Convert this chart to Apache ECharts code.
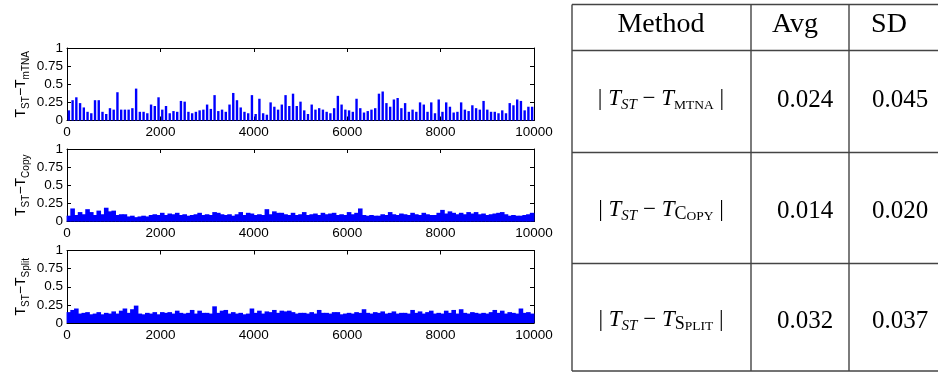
<!DOCTYPE html>
<html><head><meta charset="utf-8">
<script src="https://cdn.jsdelivr.net/npm/echarts@6/dist/echarts.min.js"></script>
<style>html,body{margin:0;padding:0;background:#fff}#c{width:938px;height:373px}</style>
</head><body><div id="c"></div>
<script>
// ---- data (each value = peak within a bin of 80 samples) ----
const BIN = 80;
const xTickLabels = ['0','2000','4000','6000','8000','10000'];
const yTickLabels = ['0','0.25','0.5','0.75','1'];

const mtnaDiff = [0.14,0.28,0.32,0.24,0.18,0.12,0.10,0.28,0.28,0.12,0.09,0.17,0.15,0.39,0.15,0.15,0.15,0.17,0.44,0.12,
0.12,0.10,0.22,0.20,0.32,0.15,0.20,0.10,0.13,0.12,0.27,0.26,0.12,0.10,0.12,0.14,0.15,0.22,0.16,0.35,
0.13,0.15,0.12,0.22,0.38,0.28,0.18,0.12,0.10,0.35,0.09,0.30,0.10,0.08,0.25,0.19,0.15,0.22,0.35,0.20,
0.37,0.20,0.26,0.14,0.09,0.22,0.15,0.17,0.15,0.12,0.10,0.17,0.34,0.22,0.15,0.14,0.12,0.30,0.17,0.11,
0.13,0.15,0.17,0.37,0.40,0.24,0.19,0.29,0.31,0.17,0.24,0.12,0.15,0.12,0.25,0.22,0.12,0.25,0.10,0.29,
0.12,0.25,0.19,0.11,0.12,0.25,0.15,0.13,0.21,0.17,0.15,0.27,0.15,0.12,0.12,0.10,0.14,0.10,0.24,0.21,
0.29,0.27,0.14,0.19,0.19];

const copyDiff = [0.08,0.18,0.09,0.13,0.10,0.17,0.13,0.09,0.15,0.10,0.19,0.14,0.15,0.09,0.10,0.10,0.07,0.08,0.06,0.07,
0.08,0.07,0.09,0.10,0.09,0.12,0.09,0.11,0.10,0.12,0.09,0.10,0.08,0.09,0.10,0.12,0.09,0.10,0.09,0.13,
0.12,0.10,0.09,0.10,0.08,0.10,0.13,0.09,0.12,0.11,0.09,0.10,0.09,0.17,0.10,0.14,0.12,0.12,0.10,0.09,
0.12,0.09,0.10,0.13,0.09,0.10,0.11,0.09,0.12,0.10,0.11,0.12,0.09,0.10,0.09,0.13,0.10,0.12,0.18,0.09,
0.08,0.09,0.08,0.08,0.10,0.09,0.13,0.10,0.09,0.11,0.10,0.09,0.12,0.10,0.09,0.12,0.10,0.09,0.09,0.12,
0.16,0.11,0.14,0.12,0.10,0.12,0.10,0.13,0.11,0.13,0.10,0.11,0.09,0.10,0.11,0.12,0.13,0.10,0.08,0.09,
0.08,0.08,0.09,0.10,0.12];

const splitDiff = [0.15,0.18,0.20,0.13,0.14,0.15,0.12,0.13,0.15,0.12,0.14,0.13,0.16,0.13,0.17,0.20,0.14,0.19,0.24,0.13,
0.12,0.14,0.13,0.15,0.12,0.15,0.14,0.15,0.13,0.17,0.14,0.13,0.14,0.18,0.13,0.17,0.14,0.14,0.13,0.23,
0.14,0.17,0.18,0.13,0.15,0.13,0.14,0.12,0.13,0.20,0.14,0.17,0.13,0.16,0.15,0.18,0.14,0.17,0.16,0.17,
0.15,0.13,0.14,0.14,0.13,0.15,0.13,0.18,0.14,0.14,0.13,0.15,0.15,0.12,0.13,0.14,0.13,0.15,0.14,0.19,
0.14,0.13,0.15,0.14,0.16,0.13,0.14,0.16,0.13,0.14,0.14,0.13,0.18,0.14,0.16,0.13,0.15,0.17,0.13,0.14,
0.13,0.17,0.14,0.18,0.13,0.19,0.14,0.13,0.15,0.14,0.13,0.14,0.13,0.15,0.18,0.14,0.17,0.13,0.15,0.14,
0.13,0.20,0.14,0.15,0.13];

const ySubs = [['ST','mTNA'],['ST','Copy'],['ST','Split']];

const tableHeader = ['Method','Avg','SD'];
const tableMethodCaps = [['','MTNA'],['C','OPY'],['S','PLIT']];
const tableAvg = ['0.024','0.014','0.032'];
const tableSD = ['0.045','0.020','0.037'];

// ---- layout ----
const gridTops = [48, 149, 250.5];
const GRID_LEFT = 67, GRID_W = 467, GRID_H = 72.5;
const seriesList = [mtnaDiff, copyDiff, splitDiff];
const barWidths = [2.4, 4.6, 4.6];

const chart = echarts.init(document.getElementById('c'), null, {renderer: 'canvas', width: 938, height: 373});
const sans = 'Liberation Sans, Arial, sans-serif';
const serif = 'Liberation Serif, Times New Roman, serif';

const grids = [], xAxes = [], yAxes = [], series = [];
const axisLine = {show: true, onZero: false, lineStyle: {color: '#000', width: 1}};
const tick = {show: true, inside: true, length: 4, lineStyle: {color: '#000', width: 1}};

gridTops.forEach((top, k) => {
  grids.push({left: GRID_LEFT, top: top, width: GRID_W, height: GRID_H, containLabel: false});
  xAxes.push({gridIndex: k, type: 'value', min: 0, max: 10000, interval: 2000, position: 'bottom',
    axisLine, axisTick: tick, splitLine: {show: false},
    axisLabel: {color: '#000', fontSize: 13.5, fontFamily: sans, margin: 5,
      formatter: v => xTickLabels[Math.round(v / 2000)]}});
  xAxes.push({gridIndex: k, type: 'value', min: 0, max: 10000, interval: 2000, position: 'top',
    axisLine, axisTick: tick, splitLine: {show: false}, axisLabel: {show: false}});
  yAxes.push({gridIndex: k, type: 'value', min: 0, max: 1, interval: 0.25, position: 'left',
    axisLine, axisTick: tick, splitLine: {show: false},
    axisLabel: {color: '#000', fontSize: 13.5, fontFamily: sans, margin: 4,
      formatter: v => yTickLabels[Math.round(v / 0.25)]},
    name: '{t|T}{s|' + ySubs[k][0] + '}{t|\u2212T}{s|' + ySubs[k][1] + '}',
    nameLocation: 'middle', nameRotate: 90, nameGap: 36,
    nameTextStyle: {color: '#000', fontFamily: sans,
      rich: {t: {fontSize: 14, lineHeight: 20, fontFamily: sans, color: '#000'},
             s: {fontSize: 10, lineHeight: 10, verticalAlign: 'bottom', fontFamily: sans, color: '#000'}}}});
  yAxes.push({gridIndex: k, type: 'value', min: 0, max: 1, interval: 0.25, position: 'right',
    axisLine, axisTick: tick, splitLine: {show: false}, axisLabel: {show: false}});

  series.push({
    type: 'bar', xAxisIndex: 2 * k, yAxisIndex: 2 * k, barWidth: barWidths[k],
    itemStyle: {color: '#0000ff'}, silent: true, animation: false,
    data: seriesList[k].map((v, i) => [BIN / 2 + BIN * i, v])
  });
});

// ---- table ----
const TL = 572, C1 = 751, C2 = 849, TR = 938;
const rowsY = [4.5, 50.5, 152.5, 263.5, 371];
const lineStyle = {stroke: '#444', lineWidth: 1.4};
const graphic = [];
rowsY.forEach(y => graphic.push({type: 'line', shape: {x1: TL, y1: y, x2: TR, y2: y}, style: lineStyle, silent: true}));
[TL, C1, C2].forEach(x => graphic.push({type: 'line', shape: {x1: x, y1: rowsY[0], x2: x, y2: rowsY[4]}, style: lineStyle, silent: true}));

const headX = [661, 795, 889];
tableHeader.forEach((h, i) => graphic.push({type: 'text', x: headX[i], y: 25,
  style: {text: h, font: '28px ' + serif, fill: '#000', align: 'center', verticalAlign: 'middle'}, silent: true}));

const rowCY = [99, 210, 320];
const methodRich = {
  b: {fontSize: 23, lineHeight: 27, fontFamily: serif, fill: '#000'},
  it: {fontSize: 23, lineHeight: 27, fontFamily: serif, fontStyle: 'italic', fill: '#000'},
  sub: {fontSize: 15, lineHeight: 16, fontFamily: serif, fontStyle: 'italic', fill: '#000', verticalAlign: 'bottom'},
  cb: {fontSize: 18, lineHeight: 18, fontFamily: serif, fill: '#000', verticalAlign: 'bottom'},
  cs: {fontSize: 13.5, lineHeight: 15, fontFamily: serif, fill: '#000', verticalAlign: 'bottom'}
};
tableMethodCaps.forEach((c, r) => {
  const txt = '{b|| }{it|T}{sub|ST}{b| \u2212 }{it|T}' + (c[0] ? '{cb|' + c[0] + '}' : '') + '{cs|' + c[1] + '}{b| |}';
  graphic.push({type: 'text', x: 661, y: rowCY[r],
    style: {text: txt, rich: methodRich, align: 'center', verticalAlign: 'middle', fill: '#000'}, silent: true});
  graphic.push({type: 'text', x: 805, y: rowCY[r] + 1,
    style: {text: tableAvg[r], font: '25px ' + serif, fill: '#000', align: 'center', verticalAlign: 'middle'}, silent: true});
  graphic.push({type: 'text', x: 900, y: rowCY[r] + 1,
    style: {text: tableSD[r], font: '25px ' + serif, fill: '#000', align: 'center', verticalAlign: 'middle'}, silent: true});
});

chart.setOption({
  backgroundColor: '#fff',
  animation: false,
  grid: grids, xAxis: xAxes, yAxis: yAxes, series: series,
  graphic: graphic
});
</script></body></html>
